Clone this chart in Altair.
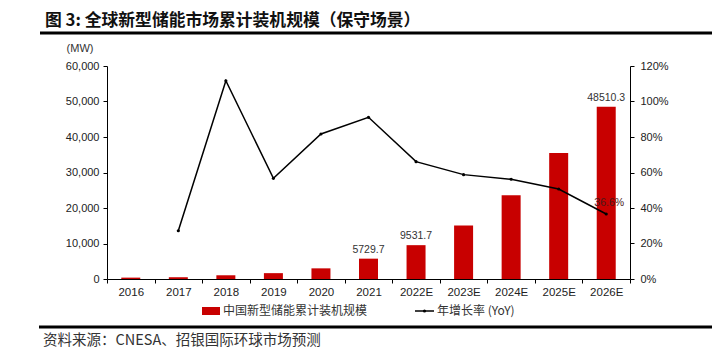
import altair as alt
import pandas as pd

years = ["2016", "2017", "2018", "2019", "2020", "2021", "2022E", "2023E", "2024E", "2025E", "2026E"]
capacity = [390, 500, 1050, 1650, 3000, 5729.7, 9531.7, 15100, 23600, 35500, 48510.3]
yoy_pct = [None, 27.2, 111.7, 56.7, 81.7, 91.1, 66.1, 58.8, 56.2, 50.7, 36.6]
bar_label_years = ["2021", "2022E", "2026E"]
yoy_label_years = ["2026E"]
left_ticks = [0, 10000, 20000, 30000, 40000, 50000, 60000]
right_ticks = [0, 0.2, 0.4, 0.6, 0.8, 1.0, 1.2]

title_text = "图 3: 全球新型储能市场累计装机规模（保守场景）"
source_text = "资料来源：CNESA、招银国际环球市场预测"
legend_bar_text = "中国新型储能累计装机规模"
legend_line_text = "年增长率 (YoY)"
unit_text = "(MW)"

RED = "#C80000"
CJK = "Noto Sans CJK SC"
LAT = "Liberation Sans"

df = pd.DataFrame({
    "year": years,
    "cap": capacity,
    "yoy": [None if v is None else v / 100 for v in yoy_pct],
})
bar_lab_df = df[df["year"].isin(bar_label_years)]
yoy_lab_df = df[df["year"].isin(yoy_label_years)]
line_df = df.dropna(subset=["yoy"])

x_enc = alt.X(
    "year:N", sort=years,
    scale=alt.Scale(paddingInner=0, paddingOuter=0),
    axis=alt.Axis(title=None, labelAngle=0, tickBand="extent", tickSize=4,
                  labelPadding=3, labelFontSize=11.5, labelFont=LAT,
                  labelColor="#222", domainColor="black", tickColor="black"),
)

y_left = alt.Y(
    "cap:Q",
    scale=alt.Scale(domain=[0, 60000], nice=False),
    axis=alt.Axis(title=None, values=left_ticks, format=",.0f", grid=False,
                  tickSize=4, labelPadding=4, labelFontSize=11, labelFont=LAT,
                  labelColor="#222", domainColor="black", tickColor="black"),
)
y_right = alt.Y(
    "yoy:Q",
    scale=alt.Scale(domain=[0, 1.2], nice=False),
    axis=alt.Axis(title=None, orient="right", values=right_ticks, format=".0%",
                  grid=False, tickSize=4, labelPadding=6, labelFontSize=11,
                  labelFont=LAT, labelColor="#222", domainColor="black",
                  tickColor="black"),
)

bars = alt.Chart(df).mark_bar(color=RED, size=19).encode(x=x_enc, y=y_left)
bar_labels = alt.Chart(bar_lab_df).mark_text(
    baseline="bottom", dy=-4, fontSize=10.5, font=LAT, color="#333"
).encode(x=x_enc, y=y_left, text=alt.Text("cap:Q", format=".1f"))

line = alt.Chart(line_df).mark_line(
    color="black", strokeWidth=1.5,
    point=alt.OverlayMarkDef(filled=True, size=10, color="black"),
).encode(x=x_enc, y=y_right)
line_label = alt.Chart(yoy_lab_df).mark_text(
    dy=-11, dx=3, fontSize=10.5, font=LAT, color="#4a1a1a"
).encode(x=x_enc, y=y_right, text=alt.Text("yoy:Q", format=".1%"))

one = pd.DataFrame({"k": [0]})


def txt(s, x, y, size, font=CJK, weight="normal", align="left", color="#222"):
    return alt.Chart(one).mark_text(
        text=s, align=align, baseline="middle", fontSize=size, font=font,
        fontWeight=weight, color=color,
    ).encode(x=alt.value(x), y=alt.value(y))


title = txt(title_text, -62, -45, 16.8, weight="bold", color="#111")
top_rule = alt.Chart(one).mark_rule(color="black", strokeWidth=3).encode(
    x=alt.value(-67), x2=alt.value(620), y=alt.value(-33))
bottom_rule = alt.Chart(one).mark_rule(color="black", strokeWidth=3).encode(
    x=alt.value(-68), x2=alt.value(620), y=alt.value(261))
source = txt(source_text, -64, 275, 14.5, color="#333")
unit = txt(unit_text, -27, -17, 11, font=LAT, align="center", color="#333")

leg_rect = alt.Chart(one).mark_rect(color=RED).encode(
    x=alt.value(95), x2=alt.value(113), y=alt.value(241), y2=alt.value(249))
leg_text1 = txt(legend_bar_text, 116, 245, 12, color="#333")
leg_line = alt.Chart(one).mark_rule(color="black", strokeWidth=1.5).encode(
    x=alt.value(308), x2=alt.value(327), y=alt.value(245))
leg_dot = alt.Chart(one).mark_point(filled=True, size=10, color="black", opacity=1).encode(
    x=alt.value(317.5), y=alt.value(245))
leg_text2 = txt(legend_line_text, 330, 245, 12, color="#333")

chart = alt.layer(
    alt.layer(bars, bar_labels),
    alt.layer(line, line_label),
    title, top_rule, bottom_rule, source, unit,
    leg_rect, leg_text1, leg_line, leg_dot, leg_text2,
).resolve_scale(y="independent").properties(
    width=523, height=213,
    autosize=alt.AutoSizeParams(type="none"),
    padding={"left": 99, "top": 58, "right": 82, "bottom": 75},
    background="white",
).configure_view(stroke=None)

chart.save("out.html", embed_options={"renderer": "svg", "actions": False})
